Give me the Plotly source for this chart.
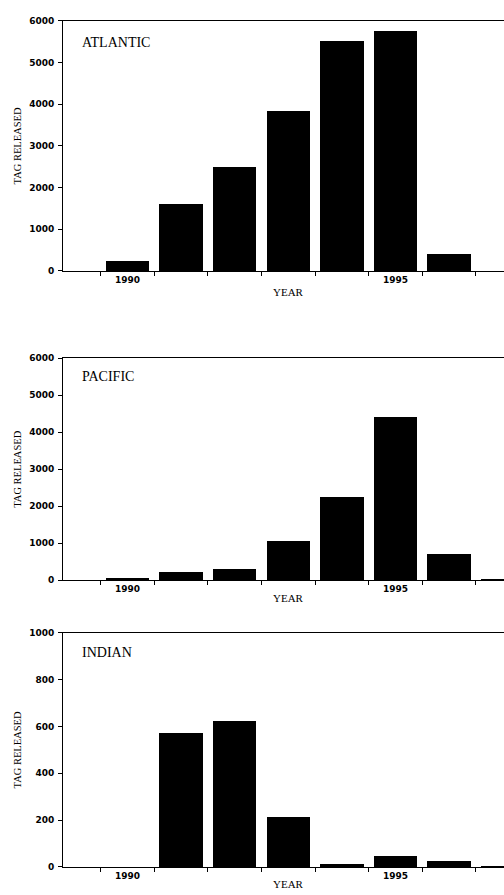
import plotly.graph_objects as go
from plotly.subplots import make_subplots

years = [1990, 1991, 1992, 1993, 1994, 1995, 1996, 1997]
atlantic = [250, 1600, 2510, 3850, 5510, 5770, 400, 0]
pacific = [50, 220, 295, 1050, 2255, 4395, 690, 20]
indian = [0, 572, 625, 215, 14, 46, 27, 4]

panel_names = ["ATLANTIC", "PACIFIC", "INDIAN"]
series = [atlantic, pacific, indian]
y_max = [6000, 6000, 1000]
y_dtick = [1000, 1000, 200]
x_labels = ["1990", "1995"]
x_label_vals = [1990, 1995]

W, H = 504, 895
# panel pixel boxes (top, bottom)
boxes = [(16, 269), (357.3, 581.7), (635, 871.7)]
year_label_y = [290, 600, 889]
name_label_y = [37.5, 376, 654.5]
x_left_px = 63

fig = make_subplots(rows=3, cols=1)

tick_font = dict(family="DejaVu Sans", size=9, color="black", weight="bold")
serif = "Liberation Serif"

for i, (vals, name) in enumerate(zip(series, panel_names)):
    r = i + 1
    fig.add_trace(go.Bar(x=years, y=vals, width=0.81, marker=dict(color="black", line=dict(width=0)),
                         showlegend=False, hoverinfo="x+y"), row=r, col=1)
    top, bot = boxes[i]
    xa = "xaxis" if i == 0 else f"xaxis{r}"
    ya = "yaxis" if i == 0 else f"yaxis{r}"
    fig.layout[xa].update(
        domain=[x_left_px / W, 1], range=[1988.797, 1997.024],
        showline=True, linecolor="black", linewidth=1, mirror=True,
        tickvals=x_label_vals, ticktext=x_labels, ticks="", tickfont=tick_font,
        showgrid=False, zeroline=False, ticklabelstandoff=0,
        minor=dict(tick0=1990.5, dtick=1, ticks="outside", ticklen=4, tickcolor="black", showgrid=False),
    )
    fig.layout[ya].update(
        domain=[1 - bot / H, 1 - top / H], range=[0, y_max[i]],
        showline=True, linecolor="black", linewidth=1,
        tick0=0, dtick=y_dtick[i], ticks="outside", ticklen=4, tickcolor="black",
        tickfont=tick_font, showgrid=False, zeroline=False, ticklabelstandoff=2,
    )
    fig.add_annotation(x=17.5 / W, y=1 - (top + bot) / 2 / H, xref="paper", yref="paper",
                       xanchor="center", yanchor="middle",
                       text="TAG RELEASED", textangle=-90, showarrow=False,
                       font=dict(family=serif, size=10.5, color="black"))
    fig.add_annotation(x=288 / W, y=1 - year_label_y[i] / H, xref="paper", yref="paper",
                       xanchor="center", yanchor="middle",
                       text="YEAR", showarrow=False, font=dict(family=serif, size=11, color="black"))
    fig.add_annotation(x=80 / W, y=1 - name_label_y[i] / H, xref="paper", yref="paper",
                       xanchor="left", yanchor="middle", text=name, showarrow=False,
                       font=dict(family=serif, size=14, color="black"))

fig.update_layout(width=W, height=H, margin=dict(l=0, r=0, t=0, b=0),
                  plot_bgcolor="white", paper_bgcolor="white", bargap=0)
fig.write_html("out.html", config={"displayModeBar": False},
               post_script="document.body.style.margin='0';document.body.style.overflow='hidden';")
